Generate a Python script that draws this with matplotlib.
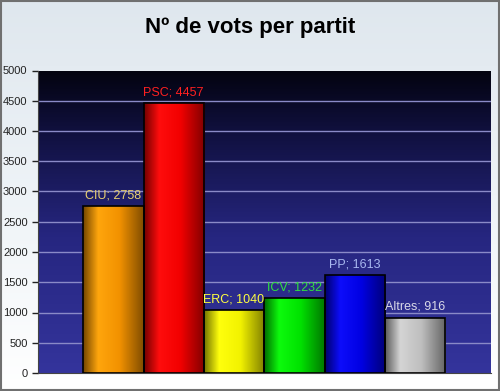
import numpy as np
import matplotlib
matplotlib.use("Agg")
import matplotlib.pyplot as plt
from matplotlib.colors import LinearSegmentedColormap, to_rgb

parties = ["CIU", "PSC", "ERC", "ICV", "PP", "Altres"]
votes = [2758, 4457, 1040, 1232, 1613, 916]
yticks = [0, 500, 1000, 1500, 2000, 2500, 3000, 3500, 4000, 4500, 5000]

bar_colors = ["#ff9900", "#ff0000", "#ffff00", "#00ee00", "#0000ee", "#c8c8c8"]
label_colors = ["#e8d070", "#ff2020", "#ffff40", "#30e040", "#a8b8f0", "#d8d8e8"]

plt.rcParams['font.family'] = ['Liberation Sans', 'DejaVu Sans']

fig = plt.figure(figsize=(5.0, 3.91), dpi=100)

# figure background gradient
bg = fig.add_axes([0, 0, 1, 1], zorder=-5)
bg.set_axis_off()
grad = np.linspace(0, 1, 256).reshape(-1, 1)
bgcmap = LinearSegmentedColormap.from_list("bg", ["#ffffff", "#eef3f7", "#dfe7ee"])
bg.imshow(grad, aspect="auto", cmap=bgcmap, origin="lower", extent=[0, 1, 0, 1])
bg.set_xlim(0, 1); bg.set_ylim(0, 1)
bg.add_patch(plt.Rectangle((0.002, 0.003), 0.996, 0.994, fill=False, edgecolor="#707070", lw=1.5, transform=bg.transAxes))

W, H = 500, 391
left, right, top, bottom = 38, 491, 70.5, 373
ax = fig.add_axes([left / W, 1 - bottom / H, (right - left) / W, (bottom - top) / H])

x = np.arange(len(parties))
x0, x1 = -1.25, 6.26
ax.set_xlim(x0, x1)
ax.set_ylim(0, 5000)

# plot area gradient (black top -> blue bottom)
pcmap = LinearSegmentedColormap.from_list("pa", [(0, "#34349c"), (0.45, "#262680"), (0.8, "#10103e"), (1.0, "#03030f")])
ax.imshow(grad, aspect="auto", cmap=pcmap, origin="lower",
          extent=[x0, x1, 0, 5000], zorder=0)

for yv in yticks[1:-1]:
    ax.axhline(yv, color="#8a8ac8", lw=1.0, zorder=1)

bars = ax.bar(x, votes, width=1.0, facecolor="none", edgecolor="black", lw=1.2, zorder=3)

hg = np.linspace(0, 1, 256).reshape(1, -1)
for b, c in zip(bars, bar_colors):
    r, g, bl = to_rgb(c)
    base = np.array([r, g, bl])
    stops = [(0.0, base * 0.45), (0.25, np.minimum(base * 1.0 + 0.05, 1)), (0.6, base * 0.95), (1.0, base * 0.5)]
    cm = LinearSegmentedColormap.from_list("b", [(p, tuple(col)) for p, col in stops])
    im = ax.imshow(hg, aspect="auto", cmap=cm, origin="lower",
                   extent=[b.get_x(), b.get_x() + b.get_width(), 0, b.get_height()], zorder=2)
    im.set_clip_path(b)

for xi, v, p, lc in zip(x, votes, parties, label_colors):
    ax.text(xi, v + 80, f"{p}; {v}", ha="center", va="bottom", color=lc, fontsize=9, zorder=4)

ax.set_xticks([])
ax.set_yticks(yticks)
ax.tick_params(axis="y", labelsize=8, colors="#222222", length=4, width=1)
for s in ["top", "right"]:
    ax.spines[s].set_visible(False)
ax.spines["left"].set_color("#444444")
ax.spines["bottom"].set_color("#444444")

fig.text(0.5, 1 - 27 / H, "Nº de vots per partit", ha="center", va="center",
         fontsize=16, fontweight="bold", color="black")

fig.savefig("out.png", dpi=100)
